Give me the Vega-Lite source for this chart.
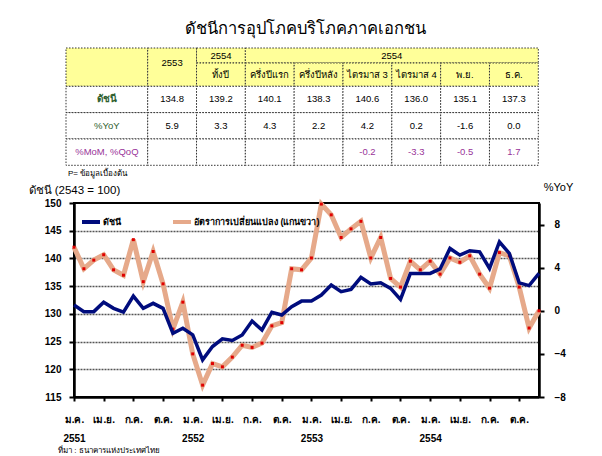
{
  "$schema": "https://vega.github.io/schema/vega-lite/v6.json",
  "background": "white",
  "padding": {"left": 27, "top": 21, "right": 5, "bottom": 0},
  "title": {"text": "ดัชนีการอุปโภคบริโภคภาคเอกชน", "fontSize": 16.5, "fontWeight": "normal", "font": "Liberation Sans", "anchor": "middle", "offset": 10, "dx": 5, "color": "black"},
  "config": {"font": "Liberation Sans", "view": {"stroke": null}},
  "spacing": 2,
  "resolve": {"scale": {"color": "independent", "fill": "independent"}, "legend": {"color": "independent"}},
  "vconcat": [
    {
      "width": 465,
      "height": 117,
      "data": {"values": [
        {"c0": 0, "c1": 1, "r0": 0, "r1": 2, "t": "", "kind": "h"},
        {"c0": 1, "c1": 2, "r0": 0, "r1": 2, "t": "2553", "kind": "h"},
        {"c0": 2, "c1": 3, "r0": 0, "r1": 1, "t": "2554", "kind": "h"},
        {"c0": 2, "c1": 3, "r0": 1, "r1": 2, "t": "ทั้งปี", "kind": "h"},
        {"c0": 3, "c1": 9, "r0": 0, "r1": 1, "t": "2554", "kind": "h"},
        {"c0": 3, "c1": 4, "r0": 1, "r1": 2, "t": "ครึ่งปีแรก", "kind": "h"},
        {"c0": 4, "c1": 5, "r0": 1, "r1": 2, "t": "ครึ่งปีหลัง", "kind": "h"},
        {"c0": 5, "c1": 6, "r0": 1, "r1": 2, "t": "ไตรมาส 3", "kind": "h"},
        {"c0": 6, "c1": 7, "r0": 1, "r1": 2, "t": "ไตรมาส 4", "kind": "h"},
        {"c0": 7, "c1": 8, "r0": 1, "r1": 2, "t": "พ.ย.", "kind": "h"},
        {"c0": 8, "c1": 9, "r0": 1, "r1": 2, "t": "ธ.ค.", "kind": "h"},
        {"c0": 0, "c1": 1, "r0": 2, "r1": 3, "t": "ดัชนี", "kind": "labb"},
        {"c0": 1, "c1": 2, "r0": 2, "r1": 3, "t": "134.8", "kind": "val"},
        {"c0": 2, "c1": 3, "r0": 2, "r1": 3, "t": "139.2", "kind": "val"},
        {"c0": 3, "c1": 4, "r0": 2, "r1": 3, "t": "140.1", "kind": "val"},
        {"c0": 4, "c1": 5, "r0": 2, "r1": 3, "t": "138.3", "kind": "val"},
        {"c0": 5, "c1": 6, "r0": 2, "r1": 3, "t": "140.6", "kind": "val"},
        {"c0": 6, "c1": 7, "r0": 2, "r1": 3, "t": "136.0", "kind": "val"},
        {"c0": 7, "c1": 8, "r0": 2, "r1": 3, "t": "135.1", "kind": "val"},
        {"c0": 8, "c1": 9, "r0": 2, "r1": 3, "t": "137.3", "kind": "val"},
        {"c0": 0, "c1": 1, "r0": 3, "r1": 4, "t": "%YoY", "kind": "lab"},
        {"c0": 1, "c1": 2, "r0": 3, "r1": 4, "t": "5.9", "kind": "val"},
        {"c0": 2, "c1": 3, "r0": 3, "r1": 4, "t": "3.3", "kind": "val"},
        {"c0": 3, "c1": 4, "r0": 3, "r1": 4, "t": "4.3", "kind": "val"},
        {"c0": 4, "c1": 5, "r0": 3, "r1": 4, "t": "2.2", "kind": "val"},
        {"c0": 5, "c1": 6, "r0": 3, "r1": 4, "t": "4.2", "kind": "val"},
        {"c0": 6, "c1": 7, "r0": 3, "r1": 4, "t": "0.2", "kind": "val"},
        {"c0": 7, "c1": 8, "r0": 3, "r1": 4, "t": "-1.6", "kind": "val"},
        {"c0": 8, "c1": 9, "r0": 3, "r1": 4, "t": "0.0", "kind": "val"},
        {"c0": 0, "c1": 1, "r0": 4, "r1": 5, "t": "%MoM, %QoQ", "kind": "labp"},
        {"c0": 1, "c1": 2, "r0": 4, "r1": 5, "t": "", "kind": "valp"},
        {"c0": 2, "c1": 3, "r0": 4, "r1": 5, "t": "", "kind": "valp"},
        {"c0": 3, "c1": 4, "r0": 4, "r1": 5, "t": "", "kind": "valp"},
        {"c0": 4, "c1": 5, "r0": 4, "r1": 5, "t": "", "kind": "valp"},
        {"c0": 5, "c1": 6, "r0": 4, "r1": 5, "t": "-0.2", "kind": "valp"},
        {"c0": 6, "c1": 7, "r0": 4, "r1": 5, "t": "-3.3", "kind": "valp"},
        {"c0": 7, "c1": 8, "r0": 4, "r1": 5, "t": "-0.5", "kind": "valp"},
        {"c0": 8, "c1": 9, "r0": 4, "r1": 5, "t": "1.7", "kind": "valp"}
      ]},
      "title": {"text": "P= ข้อมูลเบื้องต้น", "orient": "bottom", "anchor": "start", "frame": "group", "fontSize": 8, "fontWeight": "normal", "dx": -6, "offset": 4, "color": "black"},
      "transform": [
        {"calculate": "(datum.c0 + datum.c1) / 2", "as": "cx"},
        {"calculate": "(datum.r0 + datum.r1) / 2", "as": "cy"}
      ],
      "layer": [
        {
          "mark": {"type": "rect", "stroke": "#333333", "strokeWidth": 1, "strokeDash": [1.5, 1.5]},
          "encoding": {
            "x": {"field": "c0", "type": "quantitative", "scale": {"domain": [0, 1, 9], "range": [-8, 73.7, 464.3], "zero": false, "nice": false}, "axis": null},
            "x2": {"field": "c1"},
            "y": {"field": "r0", "type": "quantitative", "scale": {"domain": [0, 1, 2, 5], "range": [0, 15, 38.3, 117.3], "zero": false, "nice": false}, "axis": null},
            "y2": {"field": "r1"},
            "fill": {"field": "kind", "type": "nominal", "scale": {"domain": ["h", "labb", "lab", "labp", "val", "valp"], "range": ["#FFFF99", "#FFFFFF", "#FFFFFF", "#FFFFFF", "#FFFFFF", "#FFFFFF"]}, "legend": null}
          }
        },
        {
          "transform": [{"filter": "datum.kind != 'labb'"}],
          "mark": {"type": "text", "fontSize": 9.5, "align": "center", "baseline": "middle"},
          "encoding": {
            "x": {"field": "cx", "type": "quantitative"},
            "y": {"field": "cy", "type": "quantitative"},
            "text": {"field": "t"},
            "color": {"field": "kind", "type": "nominal", "scale": {"domain": ["h", "labb", "lab", "labp", "val", "valp"], "range": ["#000000", "#2F5F2F", "#2F5F2F", "#993399", "#000000", "#993399"]}, "legend": null}
          }
        },
        {
          "transform": [{"filter": "datum.kind == 'labb'"}],
          "mark": {"type": "text", "fontSize": 10, "fontWeight": "bold", "align": "center", "baseline": "middle", "color": "#2F5F2F"},
          "encoding": {
            "x": {"field": "cx", "type": "quantitative"},
            "y": {"field": "cy", "type": "quantitative"},
            "text": {"field": "t"}
          }
        }
      ]
    },
    {
      "width": 465,
      "height": 194,
      "view": {"stroke": "black", "strokeWidth": 2},
      "title": {"text": "ที่มา : ธนาคารแห่งประเทศไทย", "orient": "bottom", "anchor": "start", "frame": "group", "fontSize": 8, "fontWeight": "normal", "dx": -16, "offset": 4, "color": "black"},
      "data": {"values": [
        {"i": 0, "index": 131.6, "yoy": 5.9},
        {"i": 1, "index": 130.4, "yoy": 3.9},
        {"i": 2, "index": 130.4, "yoy": 4.7},
        {"i": 3, "index": 132.1, "yoy": 5.2},
        {"i": 4, "index": 131.0, "yoy": 3.8},
        {"i": 5, "index": 130.3, "yoy": 3.3},
        {"i": 6, "index": 133.2, "yoy": 6.6},
        {"i": 7, "index": 131.0, "yoy": 2.7},
        {"i": 8, "index": 131.9, "yoy": 5.5},
        {"i": 9, "index": 131.0, "yoy": 2.5},
        {"i": 10, "index": 126.5, "yoy": -1.7},
        {"i": 11, "index": 127.4, "yoy": 0.8},
        {"i": 12, "index": 126.2, "yoy": -4.0},
        {"i": 13, "index": 121.7, "yoy": -6.9},
        {"i": 14, "index": 124.1, "yoy": -4.9},
        {"i": 15, "index": 125.5, "yoy": -5.2},
        {"i": 16, "index": 125.2, "yoy": -4.3},
        {"i": 17, "index": 126.2, "yoy": -3.2},
        {"i": 18, "index": 128.7, "yoy": -3.4},
        {"i": 19, "index": 127.1, "yoy": -3.0},
        {"i": 20, "index": 130.3, "yoy": -1.4},
        {"i": 21, "index": 129.8, "yoy": -1.1},
        {"i": 22, "index": 131.3, "yoy": 3.9},
        {"i": 23, "index": 132.3, "yoy": 3.8},
        {"i": 24, "index": 132.3, "yoy": 4.9},
        {"i": 25, "index": 133.4, "yoy": 9.9},
        {"i": 26, "index": 135.2, "yoy": 8.9},
        {"i": 27, "index": 134.0, "yoy": 6.8},
        {"i": 28, "index": 134.4, "yoy": 7.6},
        {"i": 29, "index": 136.6, "yoy": 8.3},
        {"i": 30, "index": 135.4, "yoy": 4.9},
        {"i": 31, "index": 135.6, "yoy": 6.8},
        {"i": 32, "index": 134.6, "yoy": 3.0},
        {"i": 33, "index": 132.6, "yoy": 2.2},
        {"i": 34, "index": 137.3, "yoy": 4.6},
        {"i": 35, "index": 137.3, "yoy": 3.8},
        {"i": 36, "index": 137.3, "yoy": 4.6},
        {"i": 37, "index": 138.1, "yoy": 3.4},
        {"i": 38, "index": 141.8, "yoy": 4.9},
        {"i": 39, "index": 140.6, "yoy": 4.5},
        {"i": 40, "index": 141.4, "yoy": 5.1},
        {"i": 41, "index": 141.2, "yoy": 3.4},
        {"i": 42, "index": 138.2, "yoy": 2.1},
        {"i": 43, "index": 143.0, "yoy": 5.4},
        {"i": 44, "index": 140.9, "yoy": 5.1},
        {"i": 45, "index": 135.6, "yoy": 2.2},
        {"i": 46, "index": 135.1, "yoy": -1.6},
        {"i": 47, "index": 137.3, "yoy": 0.0}
      ]},
      "encoding": {
        "x": {
          "field": "i", "type": "quantitative",
          "scale": {"domain": [0, 47], "nice": false, "zero": false},
          "axis": {
            "values": [0, 3, 6, 9, 12, 15, 18, 21, 24, 27, 30, 33, 36, 39, 42, 45],
            "labelExpr": "[['ม.ค.','เม.ย.','ก.ค.','ต.ค.'][(datum.value/3)%4], datum.value % 12 == 0 ? '' + (2551 + datum.value/12) : '']",
            "title": null, "grid": false, "labelAngle": 0, "labelAlign": "center", "labelBaseline": "top",
            "labelFontWeight": "bold", "labelFontSize": 10, "labelColor": "black", "labelLineHeight": 19, "labelPadding": 13,
            "tickColor": "black", "tickWidth": 2, "tickSize": 4, "domainColor": "black", "domainWidth": 2.5
          }
        }
      },
      "layer": [
        {
          "layer": [
            {
              "mark": {"type": "line", "strokeWidth": 5},
              "encoding": {
                "y": {
                  "field": "yoy", "type": "quantitative",
                  "scale": {"domain": [-8, 10], "nice": false, "zero": false},
                  "axis": {
                    "orient": "right", "values": [-8, -6, -4, -2, 0, 2, 4, 6, 8, 10], "grid": false,
                    "title": "%YoY", "titleAngle": 0, "titleX": 19, "titleY": -16, "titleAlign": "center", "titleBaseline": "middle",
                    "titleFontSize": 11, "titleFontWeight": "normal", "titleColor": "black",
                    "labelFontWeight": "bold", "labelFontSize": 10, "labelColor": "black", "labelPadding": 10,
                    "tickColor": "black", "tickWidth": 2, "tickSize": 5, "domainColor": "black", "domainWidth": 2.5
                  }
                },
                "color": {
                  "datum": "อัตราการเปลี่ยนแปลง (แกนขวา)",
                  "scale": {"domain": ["ดัชนี", "อัตราการเปลี่ยนแปลง (แกนขวา)"], "range": ["#000C7D", "#E6A98A"]},
                  "legend": {
                    "orient": "none", "legendX": 6, "legendY": 8, "direction": "horizontal", "title": null,
                    "symbolType": "stroke", "symbolSize": 324, "symbolStrokeWidth": 4,
                    "labelFontWeight": "bold", "labelFontSize": 9, "labelColor": "black", "columnPadding": 44, "labelOffset": 1
                  }
                }
              }
            },
            {
              "mark": {"type": "point", "shape": "square", "filled": true, "size": 9, "color": "#E00000", "opacity": 1},
              "encoding": {"y": {"field": "yoy", "type": "quantitative"}}
            }
          ]
        },
        {
          "mark": {"type": "line", "strokeWidth": 3.5},
          "encoding": {
            "y": {
              "field": "index", "type": "quantitative",
              "scale": {"domain": [115, 150], "nice": false, "zero": false},
              "axis": {
                "orient": "left", "values": [115, 120, 125, 130, 135, 140, 145, 150],
                "title": "ดัชนี (2543 = 100)", "titleAngle": 0, "titleX": -46, "titleY": -13, "titleAlign": "left", "titleBaseline": "middle",
                "titleFontSize": 11.5, "titleFontWeight": "normal", "titleColor": "black",
                "labelFontWeight": "bold", "labelFontSize": 10, "labelColor": "black", "labelPadding": 8,
                "tickColor": "black", "tickWidth": 2, "tickSize": 5, "domainColor": "black", "domainWidth": 2.5,
                "grid": true, "gridDash": [2, 1], "gridWidth": 1.5,
                "gridColor": {"condition": {"test": "datum.value == 115 || datum.value == 150", "value": "transparent"}, "value": "#555555"}
              }
            },
            "color": {"datum": "ดัชนี"}
          }
        }
      ],
      "resolve": {"scale": {"y": "independent"}}
    }
  ]
}
